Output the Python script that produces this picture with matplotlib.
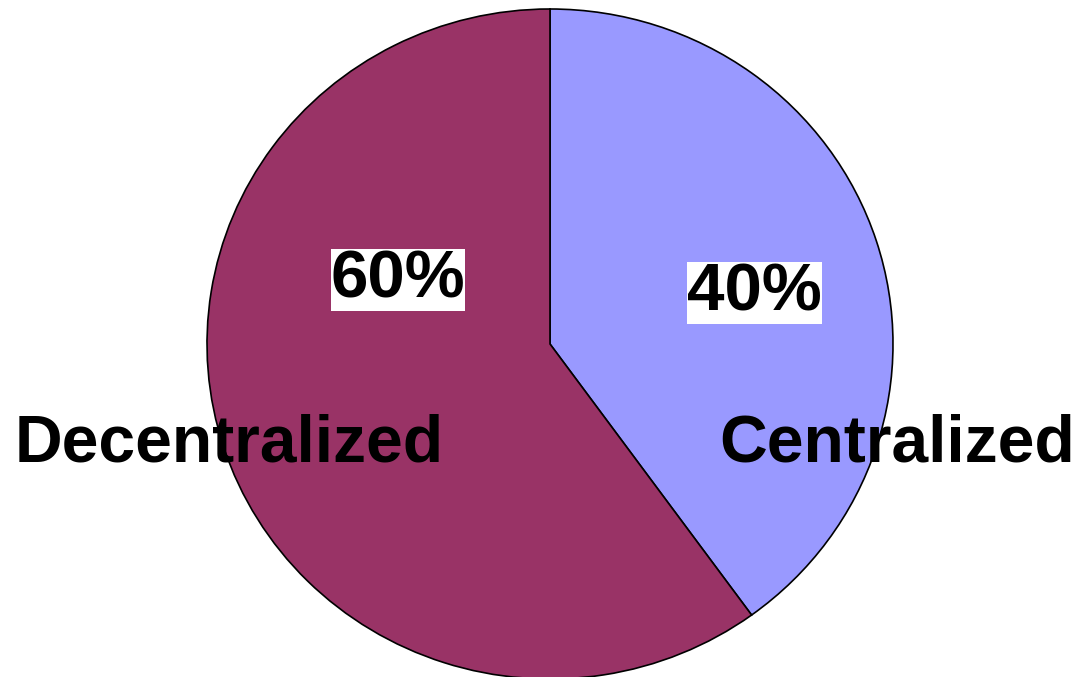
import numpy as np
import matplotlib
matplotlib.use("Agg")
import matplotlib.pyplot as plt

# share of organisations by structure
labels = ["Centralized", "Decentralized"]
shares = [40, 60]
colors = ["#9999FF", "#993366"]

plt.rcParams['font.family'] = ['Liberation Sans', 'DejaVu Sans']

fig = plt.figure(figsize=(10.77, 6.77), dpi=100)
# axes box = the pie's bounding box (pie is slightly wider than tall)
ax = fig.add_axes([207/1077, (677-679)/677, 686/1077, 670/677])

wedges, _ = ax.pie(shares, colors=colors, startangle=90, counterclock=False,
                   radius=1.0,
                   wedgeprops=dict(edgecolor='black', linewidth=1.2))
ax.set_aspect('auto')
ax.set_xlim(-1, 1)
ax.set_ylim(-1, 1)
ax.axis('off')

fsize = 47.5
# percentage labels on white boxes
pct_pos = {"Centralized": (0.596, 0.101), "Decentralized": (-0.443, 0.140)}
for lab, val in zip(labels, shares):
    x, y = pct_pos[lab]
    ax.text(x, y, f"{val}%", ha='center', va='baseline', fontsize=fsize + 1,
            fontweight='bold', color='black', clip_on=False,
            bbox=dict(boxstyle='square,pad=0.0', facecolor='white',
                      edgecolor='none'))

# category names
name_pos = {"Centralized": (1.011, -0.352), "Decentralized": (-0.936, -0.352)}
for lab in labels:
    x, y = name_pos[lab]
    ax.text(x, y, lab, ha='center', va='baseline', fontsize=fsize,
            fontweight='bold', color='black', clip_on=False)

fig.savefig("out.png", dpi=100)
